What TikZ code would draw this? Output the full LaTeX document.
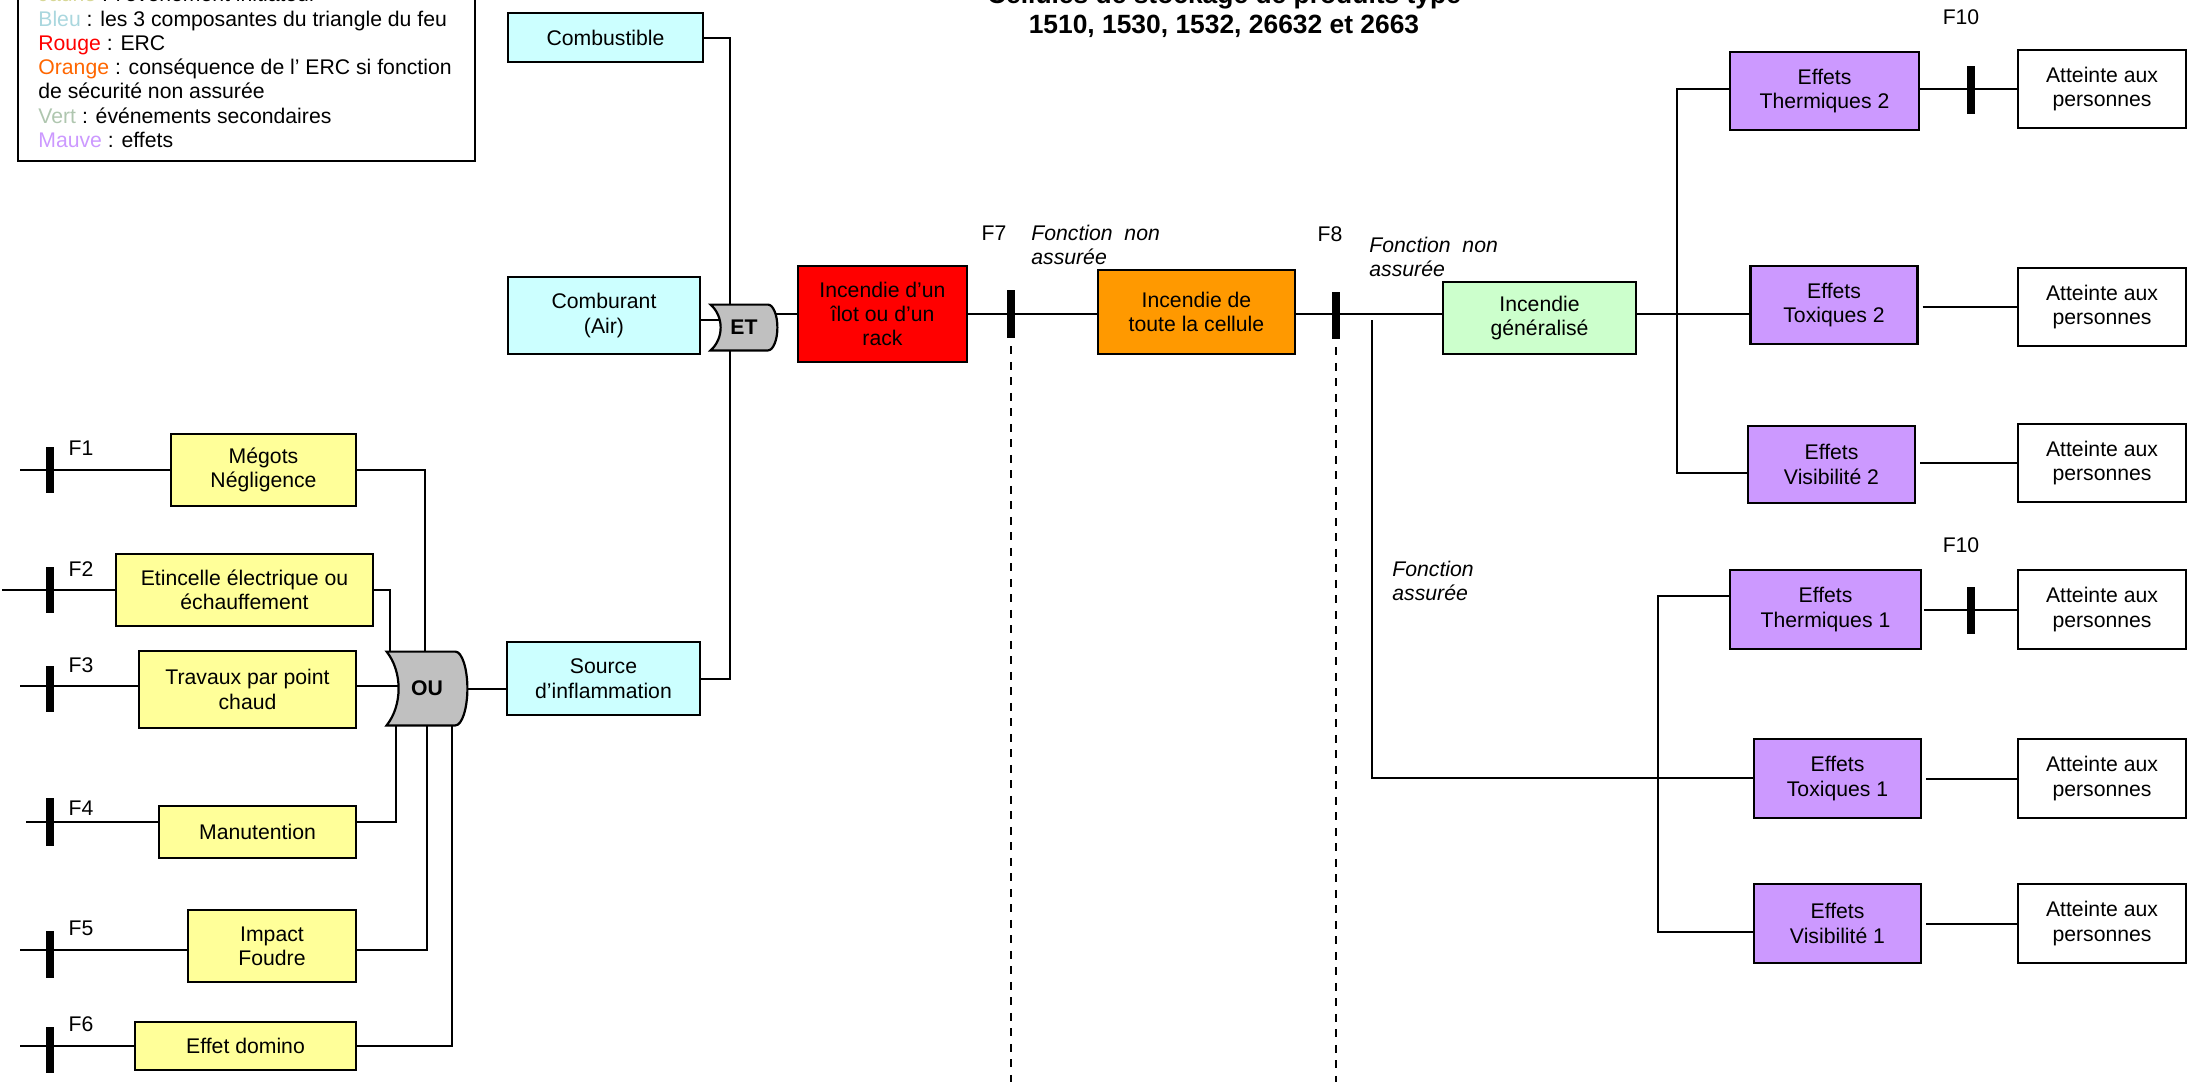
\documentclass[tikz,border=0pt]{standalone}
\usepackage{fontspec}
\setmainfont{Liberation Sans}
\usetikzlibrary{calc}
\pgfdeclarelayer{bg}
\pgfdeclarelayer{mid}
\pgfsetlayers{bg,mid,main}
\definecolor{cyanbox}{RGB}{204,255,255}
\definecolor{yelbox}{RGB}{255,255,153}
\definecolor{redbox}{RGB}{255,0,0}
\definecolor{orabox}{RGB}{255,153,0}
\definecolor{grnbox}{RGB}{204,255,204}
\definecolor{purbox}{RGB}{204,153,255}
\definecolor{gategray}{RGB}{192,192,192}
\definecolor{legjaune}{RGB}{215,215,150}
\definecolor{legbleu}{RGB}{170,215,222}
\definecolor{legrouge}{RGB}{255,0,0}
\definecolor{legorange}{RGB}{255,102,0}
\definecolor{legvert}{RGB}{175,198,175}
\definecolor{legmauve}{RGB}{204,153,255}
\newcommand\txtfont{\fontsize{10.6pt}{12.2pt}\selectfont}
\newcommand\titfont{\fontsize{13.2pt}{15pt}\selectfont\bfseries}
\tikzset{
  box/.style={draw=black, line width=1.1pt, inner sep=0pt, align=center, font=\txtfont},
  bar/.style={fill=black, draw=none, inner sep=0pt, minimum width=4pt},
  conn/.style={line width=1pt, draw=black},
  dashline/.style={line width=1pt, dash pattern=on 4pt off 3.75pt},
  gatenode/.style={inner sep=0pt, font=\txtfont\bfseries},
  gateshape/.style={fill=gategray, draw=black, line width=1.1pt},
  lbl/.style={inner sep=0pt, font=\txtfont},
  ilbl/.style={inner sep=0pt, font=\txtfont\itshape, anchor=base west},
  leg/.style={inner sep=0pt, font=\txtfont, anchor=base west},
  tit/.style={inner sep=0pt, font=\titfont, anchor=base},
}
\newcommand\mybox[7]{\node[box,#6,minimum width=#4*0.5pt,minimum height=#5*0.5pt] (#1) at (#2,#3) {#7};}
\begin{document}
\begin{tikzpicture}[x=0.5pt,y=-0.5pt]
\useasboundingbox (0,0) rectangle (2190,1082);
\clip (0,0) rectangle (2190,1082);

% legend
\node[draw=black, line width=1.2pt, inner sep=0pt, minimum width=228.5pt, minimum height=91pt, anchor=south west] (legend) at (17,162) {};
\node[leg] (leg0) at (38,1.7) {{\color{legjaune}Jaune} : l’événement initiateur};
\node[leg] (leg1) at (38,26) {{\color{legbleu}Bleu} : les 3 composantes du triangle du feu};
\node[leg] (leg2) at (38,50.3) {{\color{legrouge}Rouge} : ERC};
\node[leg] (leg3) at (38,74.6) {{\color{legorange}Orange} : conséquence de l’ ERC si fonction};
\node[leg] (leg4) at (38,98.9) {de sécurité non assurée};
\node[leg] (leg5) at (38,123.2) {{\color{legvert}Vert} : événements secondaires};
\node[leg] (leg6) at (38,147.5) {{\color{legmauve}Mauve} : effets};

% title
\node[tit] (tit1) at (1224,3) {Cellules de stockage de produits type};
\node[tit] (tit2) at (1224,33) {1510, 1530, 1532, 26632 et 2663};

% fire triangle
\mybox{comb}{605.5}{37.5}{195}{49}{fill=cyanbox}{Combustible}
\mybox{comb2}{604}{315.5}{192}{77}{fill=cyanbox}{Comburant\\(Air)}
\mybox{src}{603.5}{678.5}{193}{73}{fill=cyanbox}{Source\\d’inflammation}

% gates
\node[gatenode, minimum width=33pt, minimum height=22.5pt] (et) at (744,327.5) {ET};
\node[gatenode, minimum width=40pt, minimum height=36.5pt] (ou) at (427,688.5) {OU};

% chain
\mybox{red}{882.5}{314}{169}{96}{fill=redbox}{Incendie d’un\\îlot ou d’un\\rack}
\mybox{orange}{1196.5}{312}{197}{84}{fill=orabox}{Incendie de\\toute la cellule}
\mybox{green}{1539.5}{318}{193}{72}{fill=grnbox}{Incendie\\généralisé}

% group 2
\mybox{therm2}{1824.5}{91}{189}{78}{fill=purbox}{Effets\\Thermiques 2}
\mybox{tox2}{1834}{305}{167}{78}{fill=purbox}{Effets\\Toxiques 2}
\mybox{vis2}{1831.5}{464.5}{167}{77}{fill=purbox}{Effets\\Visibilité 2}
\mybox{att2a}{2102}{89}{168}{78}{fill=white}{Atteinte aux\\personnes}
\mybox{att2b}{2102}{307}{168}{78}{fill=white}{Atteinte aux\\personnes}
\mybox{att2c}{2102}{463}{168}{78}{fill=white}{Atteinte aux\\personnes}

% group 1
\mybox{therm1}{1825.5}{609.5}{191}{79}{fill=purbox}{Effets\\Thermiques 1}
\mybox{tox1}{1837.5}{778.5}{167}{79}{fill=purbox}{Effets\\Toxiques 1}
\mybox{vis1}{1837.5}{923.5}{167}{79}{fill=purbox}{Effets\\Visibilité 1}
\mybox{att1a}{2102}{609.5}{168}{79}{fill=white}{Atteinte aux\\personnes}
\mybox{att1b}{2102}{778.5}{168}{79}{fill=white}{Atteinte aux\\personnes}
\mybox{att1c}{2102}{923.5}{168}{79}{fill=white}{Atteinte aux\\personnes}

% initiating events
\mybox{meg}{263.5}{470}{185}{72}{fill=yelbox}{Mégots\\Négligence}
\mybox{eti}{244.5}{590}{257}{72}{fill=yelbox}{Etincelle électrique ou\\échauffement}
\mybox{trav}{247.5}{689.5}{217}{77}{fill=yelbox}{Travaux par point\\chaud}
\mybox{man}{257.5}{832}{197}{52}{fill=yelbox}{Manutention}
\mybox{imp}{272}{946}{168}{72}{fill=yelbox}{Impact\\Foudre}
\mybox{dom}{245.5}{1046}{221}{48}{fill=yelbox}{Effet domino}

% barriers
\node[bar, minimum height=23pt] (b1) at (50,470) {};
\node[bar, minimum height=23pt] (b2) at (50,590) {};
\node[bar, minimum height=23pt] (b3) at (50,689) {};
\node[bar, minimum height=24pt] (b4) at (50,822) {};
\node[bar, minimum height=23.5pt] (b5) at (50,954) {};
\node[bar, minimum height=23pt] (b6) at (50,1050) {};
\node[bar, minimum height=24pt] (f7) at (1011,314) {};
\node[bar, minimum height=23.5pt] (f8) at (1336,315.5) {};
\node[bar, minimum height=24pt] (f10a) at (1970.5,90) {};
\node[bar, minimum height=23.5pt] (f10b) at (1970.5,610.5) {};

% labels
\node[lbl] (lf1) at (81,448) {F1};
\node[lbl] (lf2) at (81,569) {F2};
\node[lbl] (lf3) at (81,665) {F3};
\node[lbl] (lf4) at (81,808) {F4};
\node[lbl] (lf5) at (81,928) {F5};
\node[lbl] (lf6) at (81,1024) {F6};
\node[lbl] (lf7) at (994,233) {F7};
\node[lbl] (lf8) at (1330,234) {F8};
\node[lbl] (lf10a) at (1961,17) {F10};
\node[lbl] (lf10b) at (1961,545) {F10};
\node[ilbl] (fn7a) at (1031,240.5) {Fonction~~non};
\node[ilbl] (fn7b) at (1031,264) {assurée};
\node[ilbl] (fn8a) at (1369,252) {Fonction~~non};
\node[ilbl] (fn8b) at (1369,276) {assurée};
\node[ilbl] (faa) at (1392,576.5) {Fonction};
\node[ilbl] (fab) at (1392,600) {assurée};

% helper coordinates
\coordinate (s1) at (20,470);
\coordinate (s2) at (2,590);
\coordinate (s3) at (20,686);
\coordinate (s4) at (26,822);
\coordinate (s5) at (20,950);
\coordinate (s6) at (20,1046);
\coordinate (d7) at (1011,1082);
\coordinate (d8) at (1336,1082);
\coordinate (fa1) at (1372,320);
\coordinate (fa2) at (1372,778);
\coordinate (v1) at (1658,0);
\coordinate (v2) at (1676.5,0);
\coordinate (vis2in) at ([yshift=-4.25pt]vis2.west);
\coordinate (vis1in) at ([yshift=-4.25pt]vis1.west);
\coordinate (therm1in) at ([yshift=7pt]therm1.west);
\coordinate (therm2in) at ([yshift=1pt]therm2.west);
\coordinate (comb2out) at ([yshift=-2pt]comb2.east);
\coordinate (travout) at ([yshift=1.75pt]trav.east);
\coordinate (manout) at ([yshift=5pt]man.east);
\coordinate (impout) at ([yshift=-2pt]imp.east);

% gate shapes
\begin{pgfonlayer}{mid}
\draw[gateshape] (ou.north west) -- ([xshift=-6pt]ou.north east)
  .. controls ([xshift=-2.7pt]ou.north east) and ([yshift=10pt]ou.east) .. (ou.east)
  .. controls ([yshift=-10pt]ou.east) and ([xshift=-2.7pt]ou.south east) .. ([xshift=-6pt]ou.south east)
  -- (ou.south west)
  .. controls ([xshift=8pt,yshift=10pt]ou.south west) and ([xshift=8pt,yshift=-10pt]ou.north west) .. cycle;
\draw[gateshape] (et.north west) -- ([xshift=-4.7pt]et.north east)
  .. controls ([xshift=-2.1pt]et.north east) and ([yshift=6.2pt]et.east) .. (et.east)
  .. controls ([yshift=-6.2pt]et.east) and ([xshift=-2.1pt]et.south east) .. ([xshift=-4.7pt]et.south east)
  -- (et.south west)
  .. controls ([xshift=6.7pt,yshift=6pt]et.south west) and ([xshift=6.7pt,yshift=-6pt]et.north west) .. cycle;
\end{pgfonlayer}

% connectors
\begin{pgfonlayer}{bg}
\draw[conn] (s1) -- (s1 -| meg.west);
\draw[conn] (s2) -- (s2 -| eti.west);
\draw[conn] (s3) -- (s3 -| trav.west);
\draw[conn] (s4) -- (s4 -| man.west);
\draw[conn] (s5) -- (s5 -| imp.west);
\draw[conn] (s6) -- (s6 -| dom.west);
\draw[conn] (meg.east) -| ([xshift=-1pt]ou.north);
\draw[conn] (eti.east) -| ([xshift=1.5pt]ou.north west);
\draw[conn] (travout) -- (travout -| ou.center);
\draw[conn] (manout) -| ([xshift=4.5pt]ou.south west);
\draw[conn] (impout) -| (ou.south);
\draw[conn] (dom.east) -| ([xshift=-7.5pt]ou.south east);
\draw[conn] (ou.center) -- (ou.center -| src.west);
\draw[conn] (comb.east) -| ([xshift=-7pt]et.north);
\draw[conn] (comb2out) -- (comb2out -| et.center);
\draw[conn] (src.east) -| ([xshift=-7pt]et.south);
\draw[conn] (red.west -| et.center) -- (red.west);
\draw[conn] (red.east) -- (red.east -| orange.west);
\draw[conn] (orange.east |- red.east) -- (red.east -| green.west);
\draw[conn] (green.east |- red.east) -- (red.east -| tox2.west);
\draw[dashline] ([yshift=-4pt]f7.south) -- (d7);
\draw[dashline] ([yshift=-4pt]f8.south) -- (d8);
\draw[conn] (fa1) -- (fa2) -- (fa2 -| tox1.west);
\draw[conn] (therm2in) -| (vis2in -| v2) -- (vis2in);
\draw[conn] (therm2.east |- att2a.west) -- (att2a.west);
\draw[conn, shorten <=2pt] (tox2.east |- att2b.west) -- (att2b.west);
\draw[conn, shorten <=2pt] (vis2.east |- att2c.west) -- (att2c.west);
\draw[conn] (therm1in) -| (vis1in -| v1) -- (vis1in);
\draw[conn, shorten <=1pt] (therm1.east |- att1a.west) -- (att1a.west);
\draw[conn, shorten <=2pt] (tox1.east |- att1b.west) -- (att1b.west);
\draw[conn, shorten <=2pt] (vis1.east |- att1c.west) -- (att1c.west);
\end{pgfonlayer}
\end{tikzpicture}
\end{document}
